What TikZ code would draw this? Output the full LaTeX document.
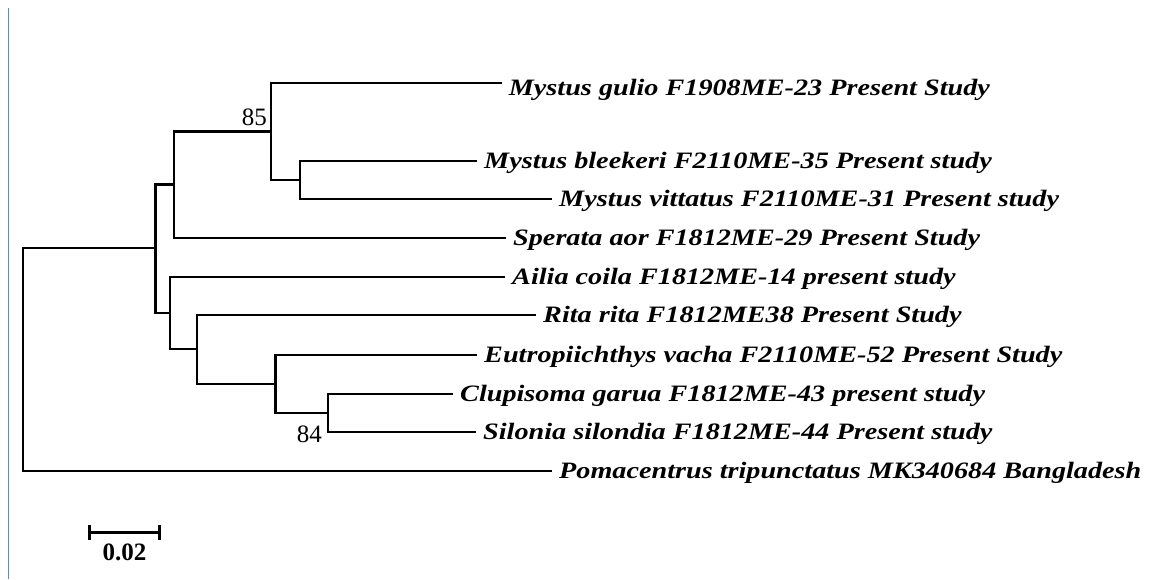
\documentclass[tikz,border=0pt]{standalone}
\usepackage{fontspec}
\setmainfont{Liberation Serif}
\newfontfamily\tipfont[FakeStretch=1.20]{Liberation Serif}
\usepackage{tikz}
\usetikzlibrary{arrows.meta,positioning}
\definecolor{edgeblue}{RGB}{84,141,212}

\begin{document}
\begin{tikzpicture}[
  x=1pt, y=-1pt,
  branch/.style={line width=2.7pt, line join=miter},
  tip/.style={anchor=west, inner xsep=7pt, inner ysep=0pt, text height=15.6pt, text depth=0pt,
    font=\tipfont\bfseries\itshape\fontsize{23.5}{28}\selectfont},
  boot/.style={inner sep=0pt, font=\fontsize{25}{28}\selectfont},
  scalebar/.style={line width=3pt, {Bar[width=15pt]}-{Bar[width=15pt]}},
]
\useasboundingbox (0,0) rectangle (1157,579);

% page edge
\draw[edgeblue, line width=1.5pt] (8.5,8) -- (8.5,579);

% internal nodes of the tree
\coordinate (root) at (23,359.5);
\coordinate (nA) at (155.7,248);
\coordinate (nB) at (174,184.5);
\coordinate (nC) at (271,131.5);
\coordinate (nD) at (300,180);
\coordinate (nE) at (170,313);
\coordinate (nF) at (197,349);
\coordinate (nG) at (275.5,384);
\coordinate (nH) at (328,413);

% taxa
\node[tip, text height=24.6pt] (gulio) at (501.7,83) {Mystus gulio F1908ME-23 Present Study};
\node[tip] (bleekeri) at (477,161) {Mystus bleekeri F2110ME-35 Present study};
\node[tip] (vittatus) at (552,199) {Mystus vittatus F2110ME-31 Present study};
\node[tip] (aor) at (506,238) {Sperata aor F1812ME-29 Present Study};
\node[tip] (ailia) at (505,277) {Ailia coila F1812ME-14 present study};
\node[tip] (rita) at (536,315) {Rita rita F1812ME38 Present Study};
\node[tip] (vacha) at (477,355) {Eutropiichthys vacha F2110ME-52 Present Study};
\node[tip] (garua) at (453,394) {Clupisoma garua F1812ME-43 present study};
\node[tip] (silondia) at (476,432) {Silonia silondia F1812ME-44 Present study};
\node[tip] (poma) at (552,471) {Pomacentrus tripunctatus MK340684 Bangladesh};

% branches
\draw[branch] (root) |- (nA);
\draw[branch] (root) |- (poma);
\draw[branch] (nA) |- (nB);
\draw[branch] (nA) |- (nE);
\draw[branch] (nB) |- (nC);
\draw[branch] (nB) |- (aor);
\draw[branch] (nC) |- (gulio);
\draw[branch] (nC) |- (nD);
\draw[branch] (nD) |- (bleekeri);
\draw[branch] (nD) |- (vittatus);
\draw[branch] (nE) |- (ailia);
\draw[branch] (nE) |- (nF);
\draw[branch] (nF) |- (rita);
\draw[branch] (nF) |- (nG);
\draw[branch] (nG) |- (vacha);
\draw[branch] (nG) |- (nH);
\draw[branch] (nH) |- (garua);
\draw[branch] (nH) |- (silondia);

% bootstrap values
\node[boot, anchor=base east, xshift=-4pt, yshift=6pt] (bsC) at (nC) {85};
\node[boot, anchor=base east, xshift=-6pt, yshift=-29pt] (bsH) at (nH) {84};

% scale bar
\coordinate (barL) at (88,532);
\coordinate (barR) at (161,532);
\draw[scalebar] (barL) -- (barR);
\node[boot, font=\bfseries\fontsize{25}{28}\selectfont, anchor=base] (barlab) at (124.5,560) {0.02};
\end{tikzpicture}
\end{document}
